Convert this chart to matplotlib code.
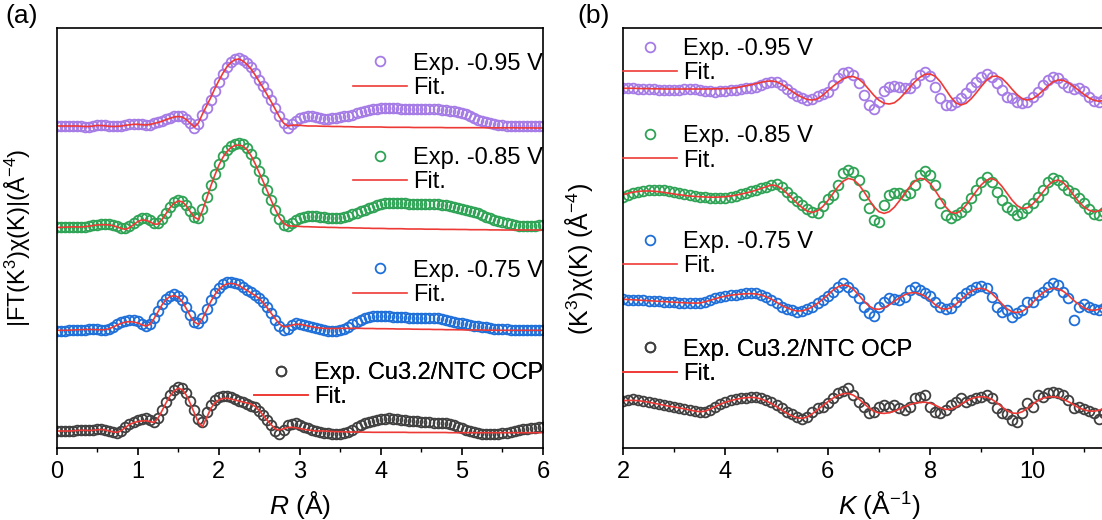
import numpy as np
import matplotlib
matplotlib.use('Agg')
import matplotlib.pyplot as plt

plt.rcParams['font.family'] = 'Liberation Sans'
plt.rcParams['mathtext.fontset'] = 'custom'
plt.rcParams['mathtext.rm'] = 'Liberation Sans'
plt.rcParams['mathtext.it'] = 'Liberation Sans:italic'

##### panel (a): |FT| vs R (arb. units above each baseline)
R = np.linspace(0, 6, 121)

ft_exp_095 = [0, 0, 0, 0.3, 0.3, 0, 0, -0.5, -0.7, 0, 1, 1, 0.7, 0, -0.3, -0.3, 0, 1, 1.7, 2.3,
              2.3, 1.7, 1, 1.5, 2.7, 3.7, 5, 6.7, 8.3, 9.7, 10.3, 9.7, 7, 3, -1.5, 2, 11, 18, 26, 35,
              44, 52, 59, 64, 67, 68.3, 66, 63, 59, 53, 46, 40, 33, 26, 18, 10, 3, -1.7, 1.7, 5,
              8, 9.5, 10, 9.7, 9.3, 8, 7, 7, 7.7, 8.5, 9.3, 10, 10.3, 11.5, 12.7, 14, 15, 16, 16.7, 17.3,
              17.7, 17.7, 17.7, 17.7, 17.7, 17.5, 17.3, 17.2, 17, 16.8, 16.7, 16.7, 16.7, 16.7, 16.7, 16.5, 16, 15.5, 15, 14.3,
              13.3, 11.8, 10, 8, 6, 4.8, 3.7, 2.7, 1.7, 1.2, 0.7, 0.3, 0, 0, -0.2, -0.3, -0.3, -0.3, -0.2, 0,
              0]
ft_fit_095 = [0, 0, 0, 0, 0, 0, -0.2, -0.5, -0.5, 0, 0.5, 0.5, 0.2, -0.3, -0.5, -0.3, 0, 0.7, 1.2, 1.7,
              1.7, 1.3, 1, 1.5, 2.5, 3.5, 4.7, 6.3, 7.7, 9, 9.5, 9, 6.5, 2.7, -1, 3, 12, 20, 28, 37,
              45, 52.5, 59, 63.5, 66.3, 67, 65, 61.5, 57, 51, 44.5, 38, 31, 24, 16.5, 9, 3, 0, 0.7, 1,
              0.7, 0.3, 0, 0, 0, -0.2, -0.3, -0.3, -0.5, -0.5, -0.5, -0.7, -0.7, -0.8, -1, -1, -1, -1, -1, -1,
              -1, -1.2, -1.3, -1.3, -1.3, -1.3, -1.3, -1.3, -1.5, -1.5, -1.5, -1.5, -1.5, -1.5, -1.5, -1.5, -1.7, -1.7, -1.7, -1.7,
              -1.7, -1.7, -1.7, -1.7, -1.7, -1.7, -1.8, -1.8, -1.8, -1.8, -1.8, -1.8, -1.8, -1.8, -1.9, -1.9, -1.9, -1.9, -2, -2,
              -2]
ft_exp_085 = [-0.7, -0.7, -0.5, -0.3, 0, 0, -0.3, 0, 0.7, 1.5, 2, 2.3, 2.3, 2.3, 1.5, 0.3, -1, -1.5, 0.5, 4,
              7, 9, 9, 7, 4, 3.5, 8, 14, 20, 24.5, 26.5, 26, 22, 16, 10, 8.3, 18, 30, 42, 53,
              63, 71, 77, 81, 83, 83.5, 82.5, 79, 73, 65, 56, 47, 37, 27, 17, 8, 2, 0.7, 3.5, 6.5,
              8.5, 9.7, 10.3, 10.7, 10.5, 10, 9.3, 8.7, 8.3, 8.3, 8.5, 9.5, 11, 12.5, 14, 15.5, 17, 18.5, 20, 21.5,
              22.5, 23.3, 24, 24, 24, 23.7, 23.3, 23, 22.7, 22.7, 22.7, 22.7, 22.7, 22.7, 22.5, 22, 21.5, 21, 20, 19,
              18, 17, 16, 15, 14, 12, 10, 8.5, 7, 5.5, 4.3, 3.3, 2.3, 1.3, 0.7, 0.3, 0.3, 0.7, 1, 1.5,
              2]
ft_fit_085 = [-0.7, -0.7, -0.5, -0.3, -0.2, -0.2, -0.3, 0, 0.5, 1.2, 1.7, 2, 2, 1.8, 1, -0.3, -1.7, -2.7, -1, 2,
              5, 6.7, 6.5, 5, 2.7, 2.5, 7, 13, 19, 23.5, 25.7, 25, 21, 15, 9.5, 7.3, 16, 28, 40, 51,
              61, 69, 75, 79, 81.3, 81.7, 80.5, 77, 71, 63, 54, 45, 35.5, 26, 17, 9, 3.5, 1, 0.7, 0.5,
              0.3, 0, 0, -0.2, -0.3, -0.5, -0.5, -0.7, -0.7, -0.8, -1, -1, -1, -1.2, -1.3, -1.3, -1.5, -1.5, -1.7, -1.7,
              -1.7, -1.8, -2, -2, -2, -2, -2.2, -2.3, -2.3, -2.3, -2.3, -2.5, -2.5, -2.5, -2.5, -2.7, -2.7, -2.7, -2.7, -2.8,
              -2.8, -2.8, -3, -3, -3, -3, -3, -3.2, -3.2, -3.2, -3.3, -3.3, -3.3, -3.3, -3.3, -3.3, -3.3, -3.3, -3.3, -3.3,
              -3.3]
ft_exp_075 = [-0.7, -0.7, -0.5, -0.3, -0.3, 0, 0, 0.3, 0.7, 0.7, 0.7, 0.3, 0.5, 1.5, 3.5, 6, 8, 9.5, 10, 10,
              9, 6.5, 4.5, 6, 12, 19, 26, 31.5, 34.5, 35.7, 34.5, 30, 23, 15, 8.5, 6.7, 12, 21, 30, 37,
              42.5, 46, 48, 48.3, 47.5, 46, 43.5, 40.5, 38, 35.5, 32.5, 28, 23, 17, 10.5, 4, 0, 1.5, 5, 6.7,
              6.5, 5.5, 4, 2.7, 1.7, 0.7, 0, -0.7, -1, -0.7, 0, 1.5, 3.5, 6, 8.5, 10.5, 12, 13.2, 14, 14.3,
              14.3, 14, 13.7, 13.5, 13.3, 13, 12.7, 12.5, 12.3, 12.3, 12.3, 12.3, 12.5, 12.3, 11.7, 10.8, 10, 9.2, 8.3, 7.5,
              6.7, 6, 5.2, 4.5, 4, 3.3, 2.7, 2, 1.5, 1.2, 1, 0.7, 0.5, 0.3, 0, -0.3, -0.3, -0.3, 0, 0,
              0]
ft_fit_075 = [-0.3, -0.3, -0.3, -0.2, 0, 0.2, 0.3, 0.5, 0.5, 0.5, 0.3, 0.2, 0.3, 1.2, 3, 5, 6.7, 8, 8.3, 8,
              7, 5.3, 4, 5.5, 11, 18, 25, 30.5, 33.5, 34.3, 33, 28.5, 21.5, 14, 8, 5.7, 11, 19.5, 28, 35,
              40.5, 44, 46, 46.7, 46, 44.5, 42, 39.5, 37, 34.5, 31.5, 27, 22, 16.5, 11, 6, 3.3, 3.5, 4.8, 5.7,
              5.7, 5, 4, 3.2, 2.5, 2, 1.7, 1.5, 1.5, 1.5, 1.7, 1.7, 1.7, 1.7, 1.7, 1.7, 1.5, 1.5, 1.5, 1.3,
              1.3, 1.3, 1.2, 1.2, 1, 1, 1, 1, 0.8, 0.8, 0.7, 0.7, 0.7, 0.5, 0.5, 0.5, 0.3, 0.3, 0.3, 0.2,
              0.2, 0, 0, 0, 0, 0, -0.2, -0.2, -0.2, -0.3, -0.3, -0.3, -0.3, -0.3, -0.3, -0.3, -0.3, -0.3, -0.3, -0.3,
              -0.3]
ft_exp_ocp = [0, 0, 0, 0, 0.3, 0.7, 1, 1, 0.7, 1, 1.7, 2, 1.5, 0.3, -1, -1.7, 0.5, 4, 7.5, 9.5,
              11, 12, 12.7, 11.5, 9.5, 13, 21, 29, 36, 41, 44.3, 43.5, 38, 30, 21, 12, 9, 19, 26, 31,
              34, 35, 35, 33.7, 32, 30.5, 29.3, 27.5, 25.5, 23.7, 20, 16, 11, 6, 0, -3, 1, 6, 7.5, 7.7,
              6.5, 4.5, 2.7, 1, 0, -1, -1.7, -2.3, -2.7, -3, -3, -2.3, -0.7, 1.5, 4, 6, 7.7, 9, 10.3, 11.3,
              12, 12.5, 12.7, 12.5, 12, 11.5, 11, 10.5, 10, 9.7, 9.3, 9, 8.8, 8.5, 8.3, 8, 7.7, 7, 5.8, 4.3,
              2.7, 1.3, 0, -1.3, -2.3, -2.7, -3, -3, -3, -2.7, -2.3, -1.5, -0.7, 0.2, 1, 1.8, 2.5, 3, 3.5, 3.8,
              4]
ft_fit_ocp = [0, 0, 0, 0, 0.2, 0.5, 0.7, 0.7, 0.5, 0.7, 1.2, 1.5, 1, 0, -1, -1.3, 0.5, 3.5, 6.5, 8.3,
              9.5, 10, 10.3, 9.5, 8.5, 12.5, 20, 28, 35, 40, 42.7, 41.5, 36, 27.5, 18, 8.5, 4.3, 13, 22, 28,
              31, 32.5, 32.7, 32, 31, 30, 29, 28, 27, 24.5, 20.5, 15.5, 10.5, 6, 2, 1, 2.3, 3.5, 3.7, 3.3,
              2.5, 1.7, 1, 0.5, 0, 0, 0, -0.3, -0.5, -0.7, -0.7, -0.8, -1, -1, -1, -1, -1.2, -1.2, -1.3, -1.3,
              -1.3, -1.3, -1.3, -1.3, -1.3, -1.3, -1.3, -1.5, -1.5, -1.5, -1.5, -1.5, -1.5, -1.5, -1.5, -1.5, -1.5, -1.7, -1.7, -1.7,
              -1.7, -1.7, -1.7, -1.7, -1.7, -1.7, -1.7, -1.7, -1.7, -1.7, -1.7, -1.7, -1.7, -1.7, -1.7, -1.7, -1.7, -1.7, -1.7, -1.7,
              -1.7]

##### panel (b): k^3 chi(k) vs K
K = np.linspace(2, 11.5, 96)

chi_exp_095 = [0, 0.3, 0, -0.3, -0.7, -0.7, -1, -1.3, -1.3, -1.7, -1.7, -1.3, -1, -0.7, -1, -1.3, -2.3, -3, -3.3, -3,
               -2.7, -2, -1.3, -0.7, 0, 0.5, 1.5, 3.5, 5.7, 6.7, 6.3, 3.5, -1, -5, -8, -10, -11.7, -10.3, -7.7, -5.7,
               -3.3, 3, 10, 15, 16.7, 13.3, 5, -6.7, -16.7, -21, -14, -3, 1.7, 2.3, 1.7, 0.3, 0.7, 5, 13.3, 16.7,
               12, 1.7, -10, -16.7, -16.7, -13.3, -10, -5, 1.7, 6.7, 11.7, 14.3, 11.7, 5, -1.7, -8.3, -10, -13.3, -15, -13.3,
               -8.3, -3.3, 3.3, 8.3, 11, 10, 5, 1.7, -0.5, 0.5, -3, -9, -13, -13.5, -11, -7]
chi_fit_095 = [0, 0, 0, -0.2, -0.3, -0.3, -0.5, -0.5, -0.7, -0.7, -0.7, -0.7, -0.7, -0.7, -0.7, -0.7, -0.7, -0.6, -0.5, -0.4,
               -0.3, 0, 0.5, 1.5, 2.5, 3.5, 4.7, 6, 7, 7.3, 6.5, 4, 0.5, -3, -6.5, -9, -11.2, -11.7, -10.5, -7,
               -2.5, 2, 6, 9.5, 11.5, 11.7, 9.5, 5, -1, -7, -12, -15, -15.7, -14.5, -10.5, -5, 1, 6.5, 11, 14,
               14.3, 12, 6.5, -1, -8.5, -14.5, -16.7, -15, -10.5, -4.5, 2, 8, 11.7, 12.3, 10, 5, -1, -6.5, -10.5, -11.7,
               -10.5, -7, -2.5, 2.5, 6.5, 8.3, 8, 5.5, 2, -2, -6, -9.5, -12, -13, -12, -9]
chi_exp_085 = [0, 2, 3.7, 5, 6, 6.7, 6.7, 6.7, 6.3, 5.7, 5, 4, 2.7, 1.7, 0.7, 0, -0.7, -1.3, -1.7, -1.3,
               -1, 0, 1.2, 2.3, 4, 5.7, 7, 8.3, 10, 11.7, 12.3, 10, 5, 0, -4, -8.3, -12, -15, -16.3, -9,
               -2, 1.7, 11.7, 23.3, 26.7, 25, 16.7, 1.7, -11.7, -23.3, -25, -8.3, 1.7, 3.3, 3.3, 1.7, 3.3, 11.7, 21.7, 25.7,
               21.7, 11.7, -6.7, -18.3, -21, -18.3, -15, -10, -1.7, 6.7, 15, 20, 15, 5, -3.3, -10, -13.3, -18.3, -16.7, -11.7,
               -6.7, 0, 6.7, 15, 18.3, 16.7, 11.7, 6.7, 3.3, -1.7, -6, -12, -17, -18, -15, -10]
chi_fit_085 = [2, 3.5, 4.5, 5.3, 5.7, 5.7, 5.5, 5, 4.3, 3.5, 2.7, 2, 1.3, 0.7, 0.3, 0, -0.3, -0.5, -0.5, -0.3,
               0, 0.7, 1.5, 2.5, 3.7, 5, 6.5, 8.3, 10, 11.7, 11, 8, 3.5, -1.5, -6.5, -11, -14.5, -15.7, -14, -10,
               -4, 3, 10, 15.5, 18.3, 17, 12.5, 5.5, -2.5, -10, -15, -16.7, -15, -10.5, -4, 3, 10, 15.5, 18.3, 17.5,
               13, 6, -2, -10, -15.5, -16.7, -14, -8.5, -1.5, 5.5, 12, 16.5, 18.3, 16, 10.5, 3.5, -3.5, -9, -11.7, -11,
               -7.5, -2, 4.5, 11, 15.5, 16.7, 14, 8.5, 1.5, -5, -10, -13.5, -15, -14, -11, -6.5]
chi_exp_075 = [0, -0.2, -0.4, -0.7, -1, -1.3, -1.7, -2, -2.3, -2.7, -3, -3.3, -3.6, -3.8, -4, -4, -2.7, -0.7, 1, 2.3,
               3.3, 4, 4.7, 5.3, 6, 6.7, 6, 4.3, 2, -0.7, -4, -7.3, -9.3, -10.7, -12.3, -11.7, -9.7, -7.3, -4, -0.7,
               3.5, 7.7, 12.7, 16, 12.7, 7.7, 1, -7.3, -14, -16.7, -7.3, -2.3, 1, 0, -0.7, 2.7, 9.3, 12.7, 9.3, 6,
               3.3, -2.3, -7.3, -10, -9, -2.3, 2.7, 6, 9.3, 12.7, 13.3, 11, 2.7, -7.3, -12.3, -10.7, -17.3, -14, -10.7, -2.3,
               -2.3, 4.3, 7.7, 12.7, 16, 14.3, 7.7, 1, -20.7, -7.3, -5, -8, -10, -11, -9, -6]
chi_fit_075 = [0, -0.2, -0.5, -0.8, -1.1, -1.4, -1.7, -2, -2.3, -2.6, -2.9, -3.2, -3.5, -3.7, -3.8, -3.7, -2.5, -1, 0.5, 2,
               3.2, 4, 4.7, 5.2, 5.5, 5.7, 5.3, 4.3, 2.5, 0, -3, -6, -8.5, -10.5, -11.7, -11.5, -10, -7.5, -4, 0,
               4.5, 9, 12.5, 14.3, 13.5, 10, 4.5, -1.5, -6.5, -9.5, -10, -8.5, -5.5, -2, 1.5, 4.5, 6.3, 6.7, 5.5, 3,
               -1, -5.5, -9, -10, -8.5, -5, -0.5, 4, 8, 10.5, 11, 9.5, 6, 1, -4.5, -9.5, -12.5, -13.3, -12, -8.5,
               -3.5, 2, 6.5, 9.8, 11, 10.5, 8, 4, -1, -5, -8.5, -10.5, -11, -10, -7.5, -4]
chi_exp_ocp = [0, 1, 1.3, 1, 0, -1, -2, -3, -4, -5, -6, -7, -8, -9.3, -10.3, -11, -11, -9, -6, -3.3,
               -1, 0.7, 1.7, 2.3, 3, 3.5, 4, 2.7, 0.7, -1.7, -4.3, -7.7, -11, -13.7, -16, -18.7, -16, -11, -7.7, -6,
               -2.7, 2.3, 7.3, 10, 12.3, 5.7, -1, -6, -12.7, -11, -6, -4.3, -6, -4.3, -7.7, -9.3, -6, 2.3, 4, 5.7,
               -6, -11, -12.7, -9.3, -4.3, -1, 2.3, -1, 0.7, 2.3, 4, 5.7, 2.3, -7.7, -12.7, -13, -19.3, -21, -12.7, -2.7,
               -6, 5.7, 4, 7.3, 9, 7.3, 5.7, 0.7, -7.7, -6, -8, -10, -12, -18, -12, -9]
chi_fit_ocp = [0, 0.3, 0.3, 0, -0.7, -1.5, -2.5, -3.5, -4.5, -5.5, -6.3, -7.2, -8.2, -9.3, -10.3, -11, -10.5, -8.5, -6, -3.5,
               -1.5, 0, 1.3, 2.3, 3, 3.3, 3, 1.7, -0.3, -3, -6, -9.5, -12.5, -15.3, -17, -17.7, -16.3, -13, -9, -5,
               -1, 2.5, 5.3, 7, 7.3, 5.5, 2, -2.5, -7, -10.5, -12.3, -12.7, -12, -10.5, -8.3, -6, -4, -2.5, -1.7, -1.5,
               -2.5, -4.5, -7, -8.7, -8.5, -6.5, -3.5, -0.5, 2, 3.5, 4, 3.5, 1.5, -2, -6, -10, -12.3, -12.7, -11, -7.5,
               -3.5, 0, 2.5, 3.7, 4, 3.3, 1.5, -1, -4, -7, -9, -10.3, -10.5, -9.5, -7.5, -5]

labels = ['Exp. -0.95 V', 'Exp. -0.85 V', 'Exp. -0.75 V', 'Exp. Cu3.2/NTC OCP']
colors = ['#a57be6', '#2fa355', '#1f6fd8', '#404040']
fit_color = '#ee3a36'

ft_exp = [ft_exp_095, ft_exp_085, ft_exp_075, ft_exp_ocp]
ft_fit = [ft_fit_095, ft_fit_085, ft_fit_075, ft_fit_ocp]
chi_exp = [chi_exp_095, chi_exp_085, chi_exp_075, chi_exp_ocp]
chi_fit = [chi_fit_095, chi_fit_085, chi_fit_075, chi_fit_ocp]

# vertical stacking offsets
off_a = [322, 221.3, 118, 17]
off_b = [359.7, 251.3, 148.7, 47.3]
# legend centres (axes fraction)
leg_a = [0.886, 0.662, 0.393, 0.150]
leg_b = [0.921, 0.713, 0.462, 0.205]

W, H = 1102, 520
fig = plt.figure(figsize=(W/100, H/100), dpi=100)
axa = fig.add_axes([56.5/W, 72/H, 486.5/W, 420/H])
axb = fig.add_axes([623/W, 72/H, 512/W, 420/H])

for i in range(4):
    axa.plot(R, np.array(ft_exp[i]) + off_a[i], 'o', mfc='none', mec=colors[i], ms=7, mew=1.3, label=labels[i])
    axa.plot(R, np.array(ft_fit[i]) + off_a[i], '-', color=fit_color, lw=1.2, label='Fit.')
    axb.plot(K, np.array(chi_exp[i]) + off_b[i], 'o', mfc='none', mec=colors[i], ms=7, mew=1.3, label=labels[i])
    axb.plot(K, np.array(chi_fit[i]) + off_b[i], '-', color=fit_color, lw=1.2, label='Fit.')

def add_legends(ax, locs, side):
    lines = ax.get_lines()
    for i in range(4):
        h = [lines[2*i], lines[2*i+1]]
        leg = ax.legend(h, [labels[i], 'Fit.'], loc='center ' + side,
                        bbox_to_anchor=(1.0 if side == 'right' else 0.0, locs[i]),
                        frameon=False, fontsize=17, numpoints=1, handlelength=2.3,
                        handletextpad=0.25, labelspacing=0.1, borderpad=0, borderaxespad=0)
        ax.add_artist(leg)

add_legends(axa, leg_a, 'right')
add_legends(axb, leg_b, 'left')

axa.set_xlim(0, 6)
axa.set_ylim(0, 420)
axa.set_xticks([0, 1, 2, 3, 4, 5, 6])
axa.set_xticks(np.arange(0.5, 6, 1), minor=True)
axa.set_xlabel(r'$\mathit{R}$ (Å)', fontsize=19, labelpad=5)
axa.set_ylabel(r'|FT(K$^{3}$)χ(K)|(Å$^{-4}$)', fontsize=17)
axa.yaxis.set_label_coords(-0.048, 0.5)

axb.set_xlim(2, 12)
axb.set_ylim(0, 420)
axb.set_xticks([2, 4, 6, 8, 10])
axb.set_xticks([3, 5, 7, 9, 11], minor=True)
axb.set_xlabel(r'$\mathit{K}$ (Å$^{-1}$)', fontsize=19, labelpad=5)
axb.set_ylabel(r'(K$^{3}$)χ(K) (Å$^{-4}$)', fontsize=18)
axb.yaxis.set_label_coords(-0.055, 0.45)

for ax in (axa, axb):
    ax.set_yticks([])
    for s in ax.spines.values():
        s.set_linewidth(1.2)
    ax.tick_params(axis='x', which='major', direction='out', length=5, width=1.2, labelsize=17, pad=4)
    ax.tick_params(axis='x', which='minor', direction='out', length=3, width=1.0)

fig.text(22/W, 1 - 16/H, '(a)', fontsize=19, ha='center', va='center')
fig.text(594/W, 1 - 16/H, '(b)', fontsize=19, ha='center', va='center')

plt.savefig('out.png', dpi=100)
